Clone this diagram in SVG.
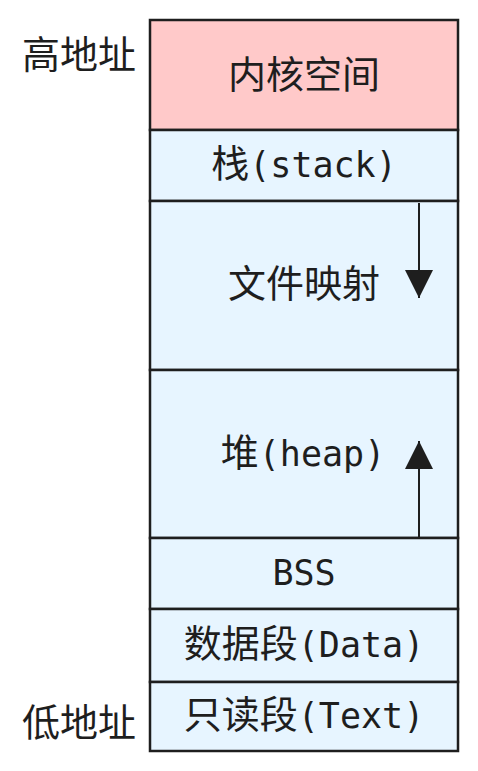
<svg xmlns="http://www.w3.org/2000/svg" width="478" height="771" viewBox="0 0 478 771">
<defs>
<style>
.box{fill:#e7f5ff;stroke:#1e1e1e;stroke-width:2.5}
.kern{fill:#ffc9c9;stroke:#1e1e1e;stroke-width:2.5}
.t{font-family:"DejaVu Sans Mono","Noto Sans CJK SC",monospace;font-size:35px;fill:#1e1e1e;text-anchor:middle}
.c{font-size:38px}
.lab{font-family:"Noto Sans CJK SC","Noto Sans",sans-serif;font-size:38px;fill:#1e1e1e}
.ln{stroke:#1e1e1e;stroke-width:2;fill:none}
</style>
<marker id="ah" viewBox="0 0 28 28" refX="28" refY="14" markerWidth="28" markerHeight="28" markerUnits="userSpaceOnUse" orient="auto">
<path d="M0,0 L28,14 L0,28 Z" fill="#1e1e1e"/>
</marker>
</defs>
<g id="label-high"><text class="lab" x="22" y="68">高地址</text></g>
<g id="label-low"><text class="lab" x="22" y="736">低地址</text></g>
<g id="kernel"><rect class="kern" x="150" y="20" width="308" height="110"/><text class="t c" x="304" y="88">内核空间</text></g>
<g id="stack"><rect class="box" x="150" y="130" width="308" height="71"/><text class="t" x="304" y="177"><tspan class="c">栈</tspan>(stack)</text></g>
<g id="mmap"><rect class="box" x="150" y="201" width="308" height="169"/><text class="t c" x="304" y="297">文件映射</text></g>
<g id="heap"><rect class="box" x="150" y="370" width="308" height="168"/><text class="t" x="303" y="466"><tspan class="c">堆</tspan>(heap)</text></g>
<g id="bss"><rect class="box" x="150" y="538" width="308" height="71"/><text class="t" x="304" y="585">BSS</text></g>
<g id="data"><rect class="box" x="150" y="609" width="308" height="73"/><text class="t" x="304" y="657"><tspan class="c">数据段</tspan>(Data)</text></g>
<g id="text"><rect class="box" x="150" y="682" width="308" height="69"/><text class="t" x="304" y="728"><tspan class="c">只读段</tspan>(Text)</text></g>
<g id="connectors">
<line class="ln" x1="419" y1="203" x2="419" y2="298" marker-end="url(#ah)"/>
<line class="ln" x1="419" y1="537" x2="419" y2="441" marker-end="url(#ah)"/>
</g>
</svg>
